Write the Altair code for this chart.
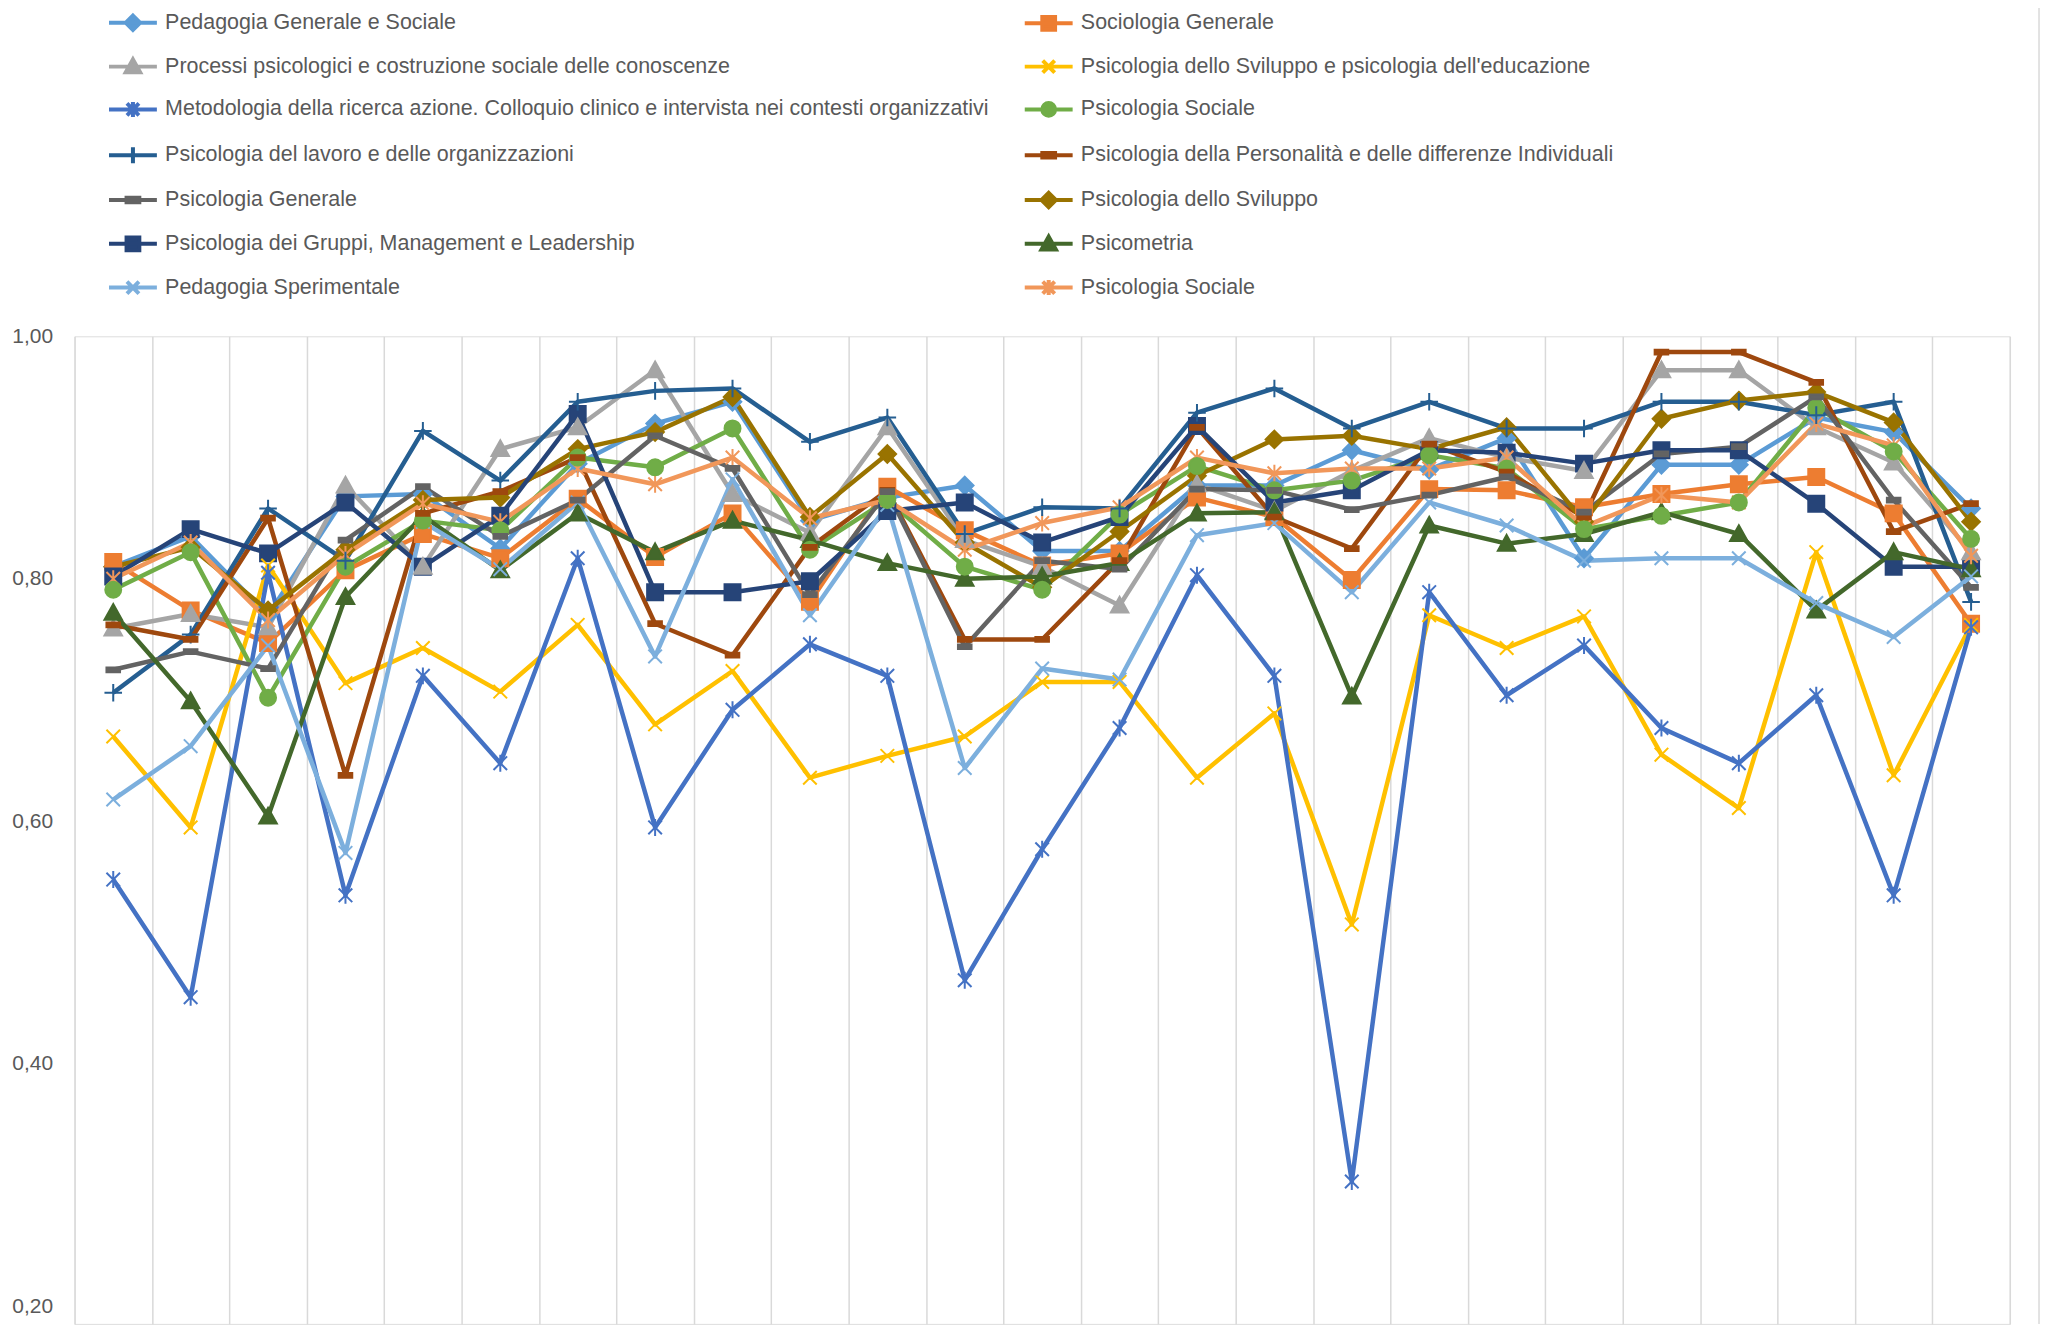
import altair as alt
import pandas as pd

# ---------------- data ----------------
series = [
    "Pedagogia Generale e Sociale",
    "Sociologia Generale",
    "Processi psicologici e costruzione sociale delle conoscenze",
    "Psicologia dello Sviluppo e psicologia dell'educazione",
    "Metodologia della ricerca azione. Colloquio clinico e intervista nei contesti organizzativi",
    "Psicologia Sociale",
    "Psicologia del lavoro e delle organizzazioni",
    "Psicologia della Personalità e delle differenze Individuali",
    "Psicologia Generale",
    "Psicologia dello Sviluppo",
    "Psicologia dei Gruppi, Management e Leadership",
    "Psicometria",
    "Pedagogia Sperimentale",
    "Psicologia Sociale ",  # second series with the same name
]
colors = ["#5B9BD5", "#ED7D31", "#A5A5A5", "#FFC000", "#4472C4", "#70AD47", "#255E91",
          "#9E480E", "#636363", "#997300", "#264478", "#43682B", "#7CAFDD", "#F1975A"]
markers = ["diamond", "square", "triangle", "x", "asterisk", "circle", "plus",
           "dash", "dash", "diamond", "square", "triangle", "x", "asterisk"]

categories = list(range(1, 26))

ped_gen_soc = [0.81, 0.835, 0.77, 0.868, 0.87, 0.825, 0.895, 0.928, 0.946, 0.848, 0.867, 0.877, 0.823,
               0.823, 0.877, 0.877, 0.906, 0.89, 0.916, 0.817, 0.894, 0.894, 0.933, 0.921, 0.858]
sociologia = [0.814, 0.774, 0.747, 0.807, 0.837, 0.817, 0.866, 0.818, 0.854, 0.781, 0.876, 0.84, 0.811,
              0.821, 0.867, 0.851, 0.799, 0.874, 0.873, 0.859, 0.87, 0.878, 0.884, 0.854, 0.763]
processi = [0.759, 0.771, 0.76, 0.877, 0.81, 0.907, 0.925, 0.972, 0.87, 0.838, 0.925, 0.832, 0.81,
            0.778, 0.878, 0.856, 0.889, 0.916, 0.9, 0.889, 0.972, 0.972, 0.925, 0.896, 0.822]
svil_educ = [0.670, 0.595, 0.811, 0.714, 0.743, 0.707, 0.762, 0.68, 0.724, 0.636, 0.654, 0.67, 0.715,
             0.715, 0.636, 0.689, 0.515, 0.77, 0.743, 0.769, 0.655, 0.611, 0.822, 0.638, 0.762]
metodologia = [0.552, 0.455, 0.805, 0.539, 0.72, 0.648, 0.817, 0.595, 0.692, 0.746, 0.72, 0.469, 0.577,
               0.677, 0.803, 0.72, 0.303, 0.789, 0.704, 0.745, 0.677, 0.648, 0.704, 0.539, 0.76]
psi_sociale = [0.791, 0.822, 0.702, 0.81, 0.848, 0.84, 0.90, 0.892, 0.924, 0.824, 0.865, 0.81, 0.791,
               0.853, 0.893, 0.873, 0.881, 0.902, 0.891, 0.841, 0.852, 0.863, 0.941, 0.905, 0.833]
lavoro = [0.706, 0.754, 0.858, 0.815, 0.922, 0.881, 0.946, 0.955, 0.957, 0.913, 0.933, 0.837, 0.859,
          0.858, 0.937, 0.957, 0.924, 0.946, 0.924, 0.924, 0.946, 0.946, 0.935, 0.946, 0.781]
personalita = [0.762, 0.75, 0.850, 0.638, 0.854, 0.872, 0.90, 0.763, 0.737, 0.826, 0.873, 0.75, 0.75,
               0.815, 0.925, 0.851, 0.825, 0.911, 0.888, 0.851, 0.987, 0.987, 0.962, 0.839, 0.862]
generale = [0.725, 0.74, 0.726, 0.832, 0.876, 0.835, 0.865, 0.918, 0.891, 0.787, 0.872, 0.744, 0.815,
            0.808, 0.874, 0.873, 0.857, 0.869, 0.884, 0.855, 0.903, 0.909, 0.95, 0.865, 0.793]
sviluppo = [0.81, 0.826, 0.774, 0.824, 0.865, 0.867, 0.907, 0.921, 0.95, 0.851, 0.903, 0.83, 0.793,
            0.839, 0.885, 0.915, 0.918, 0.907, 0.925, 0.847, 0.932, 0.947, 0.954, 0.929, 0.847]
gruppi = [0.802, 0.841, 0.821, 0.863, 0.81, 0.852, 0.936, 0.789, 0.789, 0.798, 0.856, 0.863, 0.83,
          0.851, 0.926, 0.863, 0.873, 0.906, 0.904, 0.895, 0.906, 0.906, 0.862, 0.81, 0.81]
psicometria = [0.772, 0.699, 0.604, 0.785, 0.852, 0.807, 0.854, 0.822, 0.848, 0.832, 0.813, 0.80, 0.802,
               0.813, 0.854, 0.855, 0.703, 0.844, 0.829, 0.837, 0.855, 0.837, 0.774, 0.822, 0.808]
ped_sper = [0.618, 0.662, 0.745, 0.574, 0.847, 0.808, 0.863, 0.736, 0.882, 0.77, 0.861, 0.644, 0.726,
            0.717, 0.836, 0.846, 0.789, 0.863, 0.844, 0.815, 0.817, 0.817, 0.78, 0.752, 0.802]
psi_sociale2 = [0.80, 0.83, 0.766, 0.82, 0.862, 0.847, 0.891, 0.878, 0.9, 0.85, 0.865, 0.824, 0.846,
                0.859, 0.9, 0.887, 0.891, 0.891, 0.90, 0.843, 0.869, 0.863, 0.928, 0.91, 0.819]

all_values = [ped_gen_soc, sociologia, processi, svil_educ, metodologia, psi_sociale, lavoro,
              personalita, generale, sviluppo, gruppi, psicometria, ped_sper, psi_sociale2]

y_ticks = [0.2, 0.4, 0.6, 0.8, 1.0]

rows = []
for name, vals in zip(series, all_values):
    for i, (c, v) in enumerate(zip(categories, vals)):
        rows.append({"series": name, "cat": c, "pos": i + 0.5, "val": v})
df = pd.DataFrame(rows)


# ---------------- marker shapes (custom SVG paths) ----------------
def f(v):
    return f"{v:.3f}".rstrip("0").rstrip(".")


def marker_path(kind, k):
    if kind == "diamond":
        return f"M0,{f(-k)}L{f(k)},0L0,{f(k)}L{f(-k)},0Z"
    if kind == "square":
        return f"M{f(-k)},{f(-k)}H{f(k)}V{f(k)}H{f(-k)}Z"
    if kind == "triangle":
        return f"M0,{f(-k)}L{f(k)},{f(0.8 * k)}L{f(-k)},{f(0.8 * k)}Z"
    if kind == "circle":
        return f"M{f(k)},0A{f(k)},{f(k)},0,1,1,{f(-k)},0A{f(k)},{f(k)},0,1,1,{f(k)},0Z"
    if kind == "x":
        return f"M{f(-k)},{f(-k)}L{f(k)},{f(k)}M{f(-k)},{f(k)}L{f(k)},{f(-k)}"
    if kind == "asterisk":
        return (f"M{f(-k)},{f(-k)}L{f(k)},{f(k)}M{f(-k)},{f(k)}L{f(k)},{f(-k)}"
                f"M0,{f(-1.25 * k)}V{f(1.25 * k)}")
    if kind == "plus":
        return f"M{f(-k)},0H{f(k)}M0,{f(-k)}V{f(k)}"
    if kind == "dash":
        return f"M{f(-k)},{f(-0.35 * k)}H{f(k)}V{f(0.35 * k)}H{f(-k)}Z"


plot_k = {"diamond": 1.1, "square": 1.0, "triangle": 1.1, "circle": 1.0,
          "x": 0.85, "asterisk": 0.85, "plus": 1.1, "dash": 0.85}
legend_k = {"diamond": 0.9, "square": 0.8, "triangle": 0.9, "circle": 0.8,
            "x": 0.75, "asterisk": 0.75, "plus": 1.0, "dash": 0.8}

legend_paths = ["M-3,0H3" + marker_path(m, legend_k[m]) for m in markers]

FONT = "Liberation Sans"
TEXT_COLOR = "#595959"

legend = alt.Legend(
    title=None, orient="none", legendX=47.8, legendY=-325, columns=2, direction="horizontal",
    labelFont=FONT, labelFontSize=21.5, labelColor=TEXT_COLOR, labelLimit=2000,
    labelOffset=21.5, rowPadding=12.9, columnPadding=27, symbolSize=256, padding=0,
    symbolStrokeWidth=4, symbolOpacity=1,
)

color_scale = alt.Scale(domain=series, range=colors)

x_enc = alt.X("pos:Q", scale=alt.Scale(domain=[0, 25], nice=False, zero=False),
              axis=alt.Axis(values=list(range(26)), grid=True, gridColor="#D9D9D9", gridWidth=1.5,
                            labels=False, ticks=False, domain=False, title=None))
y_enc = alt.Y("val:Q", scale=alt.Scale(domain=[0.1856, 1.0], nice=False, zero=False),
              axis=alt.Axis(values=y_ticks, grid=False, ticks=False, domain=False, title=None,
                            labelExpr="replace(format(datum.value, '.2f'), '.', ',')",
                            labelFont=FONT, labelFontSize=21, labelColor=TEXT_COLOR, labelPadding=22))

# legend-only layer (no visible marks): line + marker symbol per series
legend_layer = alt.Chart(df).transform_filter("datum.val > 5").mark_point(
    filled=True, size=256, strokeWidth=4, opacity=1
).encode(
    x=x_enc, y=y_enc,
    color=alt.Color("series:N", scale=color_scale, legend=legend),
    stroke=alt.Stroke("series:N", scale=color_scale, legend=legend),
    shape=alt.Shape("series:N", scale=alt.Scale(domain=series, range=legend_paths), legend=legend),
)

lines = alt.Chart(df).mark_line(strokeWidth=4.5, strokeJoin="round").encode(
    x=x_enc, y=y_enc,
    color=alt.Color("series:N", scale=color_scale, legend=legend),
    detail="series:N",
)

# one point layer per marker kind, constant shape
point_layers = []
for kind in ["diamond", "square", "triangle", "x", "asterisk", "circle", "plus", "dash"]:
    members = [s for s, m in zip(series, markers) if m == kind]
    point_layers.append(
        alt.Chart(df).transform_filter(alt.FieldOneOfPredicate(field="series", oneOf=members))
        .mark_point(filled=True, size=256, strokeWidth=2, opacity=1,
                    shape=marker_path(kind, plot_k[kind]))
        .encode(
            x=x_enc, y=y_enc,
            color=alt.Color("series:N", scale=color_scale, legend=legend),
            stroke=alt.Stroke("series:N", scale=color_scale, legend=legend),
        )
    )

border = alt.Chart(pd.DataFrame({"a": [0]})).mark_rule(color="#D9D9D9", strokeWidth=1.5).encode(
    x=alt.value(1969.3), y=alt.value(-330), y2=alt.value(990)
)

chart = alt.layer(legend_layer, lines, *point_layers, border).properties(
    width=1940, height=990,
    padding={"left": 66.7, "top": 327.5, "right": 33.3, "bottom": 0},
    autosize=alt.AutoSizeParams(type="none"),
).configure_view(stroke=None).configure(font=FONT)

chart.save("out.html", embed_options={"renderer": "svg", "actions": False})
